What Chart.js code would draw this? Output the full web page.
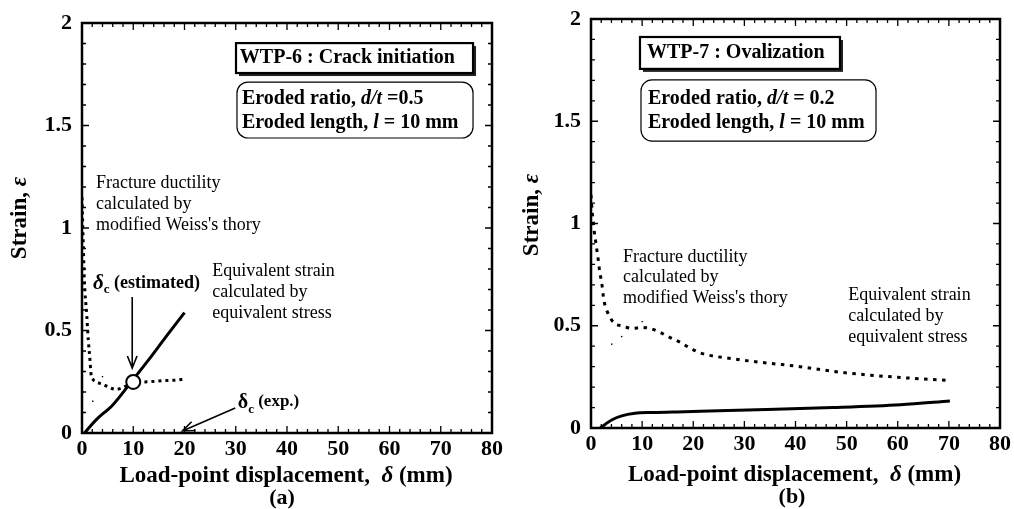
<!DOCTYPE html>
<html>
<head>
<meta charset="utf-8">
<script src="https://cdn.jsdelivr.net/npm/chart.js@4.4.0/dist/chart.umd.min.js"></script>
<style>
  html, body { margin: 0; padding: 0; background: #fff; }
  .pane { position: absolute; top: 0; }
</style>
</head>
<body>
<div class="pane" style="left:0"><canvas id="chartA" width="510" height="509"></canvas></div>
<div class="pane" style="left:500px"><canvas id="chartB" width="514" height="509"></canvas></div>
<script>
const SERIF = '"Liberation Serif", "Times New Roman", serif';

// eixos
const xTickVals = [0, 10, 20, 30, 40, 50, 60, 70, 80];
const yTickVals = [0, 0.5, 1, 1.5, 2];

// (a) WTP-6 : crack initiation
const a_strainX = [0.5, 2.7, 6.0, 9.2, 13.1, 16.4, 20.0];
const a_strainY = [0, 0.063, 0.137, 0.236, 0.36, 0.47, 0.587];
const a_ductX = [0, 0.1, 0.26, 0.45, 0.91, 1.24, 1.56, 1.75, 2.2, 2.7, 4.0, 5.3, 6.6, 8.6, 10.0, 13.1, 15.7, 18.3, 20.0];
const a_ductY = [1.15, 1.05, 0.91, 0.75, 0.58, 0.45, 0.356, 0.29, 0.26, 0.25, 0.238, 0.223, 0.213, 0.229, 0.245, 0.25, 0.255, 0.258, 0.263];
const a_strayX = [2.1, 4.0];
const a_strayY = [0.155, 0.275];
const a_critX = [10.0];
const a_critY = [0.249];

// (b) WTP-7 : ovalization
const b_strainX = [1.8, 4.05, 6.0, 8.6, 11.9, 18.4, 21.4, 34.4, 47.4, 60.5, 70.2];
const b_strainY = [0, 0.039, 0.059, 0.072, 0.076, 0.080, 0.082, 0.09, 0.1, 0.114, 0.132];
const b_ductX = [0, 0.1, 0.26, 0.45, 0.65, 0.92, 1.17, 1.43, 1.63, 1.9, 2.2, 2.4, 2.74, 3.4, 4.56, 6.2, 7.96, 10.0, 11.5, 13.5, 15.1, 17.2, 18.9, 21.4, 27.9, 34.4, 40.9, 47.4, 53.9, 60.5, 70.2];
const b_ductY = [1.14, 1.10, 1.05, 1.006, 0.957, 0.911, 0.866, 0.82, 0.778, 0.737, 0.69, 0.645, 0.60, 0.557, 0.512, 0.499, 0.487, 0.492, 0.487, 0.468, 0.447, 0.422, 0.398, 0.367, 0.338, 0.318, 0.30, 0.277, 0.26, 0.247, 0.232];
const b_strayX = [4.05, 6.0, 10.0];
const b_strayY = [0.41, 0.447, 0.52];

function pts(xs, ys) { return xs.map((x, i) => ({ x, y: ys[i] })); }

// moldura com ticks para dentro nos 4 lados
const framePlugin = {
  id: 'frame',
  afterDraw(chart) {
    const { ctx, chartArea: ca, scales: { x, y } } = chart;
    ctx.save();
    ctx.strokeStyle = '#000';
    ctx.lineWidth = 1.3;
    ctx.beginPath();
    for (let v = 0; v <= 80; v += 2) {
      const px = x.getPixelForValue(v);
      const len = v % 10 === 0 ? 7 : 4;
      ctx.moveTo(px, ca.bottom); ctx.lineTo(px, ca.bottom - len);
      ctx.moveTo(px, ca.top); ctx.lineTo(px, ca.top + len);
    }
    for (let i = 0; i <= 20; i++) {
      const py = y.getPixelForValue(i / 10);
      const len = i % 5 === 0 ? 7 : 4;
      ctx.moveTo(ca.left, py); ctx.lineTo(ca.left + len, py);
      ctx.moveTo(ca.right, py); ctx.lineTo(ca.right - len, py);
    }
    ctx.stroke();
    ctx.lineWidth = 2.5;
    ctx.strokeRect(ca.left, ca.top, ca.width, ca.height);
    ctx.restore();
  }
};

function runsWidth(ctx, runs) {
  let w = 0;
  for (const r of runs) { ctx.font = r[1] + ' ' + SERIF; w += ctx.measureText(r[0]).width; }
  return w;
}
function drawRuns(ctx, runs, x, y) {
  ctx.textBaseline = 'middle';
  ctx.textAlign = 'left';
  for (const r of runs) {
    ctx.font = r[1] + ' ' + SERIF;
    ctx.fillText(r[0], x, y + (r[2] || 0));
    x += ctx.measureText(r[0]).width;
  }
}
function arrow(ctx, x0, y0, x1, y1) {
  const a = Math.atan2(y1 - y0, x1 - x0), h = 13, s = 0.38;
  ctx.beginPath();
  ctx.moveTo(x0, y0); ctx.lineTo(x1, y1);
  ctx.moveTo(x1 - h * Math.cos(a - s), y1 - h * Math.sin(a - s));
  ctx.lineTo(x1, y1);
  ctx.lineTo(x1 - h * Math.cos(a + s), y1 - h * Math.sin(a + s));
  ctx.stroke();
}

// caixas, textos, setas e titulos dos eixos
const notesPlugin = {
  id: 'notes',
  afterDraw(chart, args, o) {
    const { ctx, scales: { x, y } } = chart;
    const X = v => x.getPixelForValue(v), Y = v => y.getPixelForValue(v);
    ctx.save();
    ctx.fillStyle = '#000';
    ctx.strokeStyle = '#000';
    for (const b of o.boxes || []) {
      const x0 = X(b.x0), x1 = X(b.x1), y0 = Y(b.y0), y1 = Y(b.y1);
      if (b.shadow) {
        ctx.fillStyle = '#222';
        ctx.fillRect(x0 + 3, y0 + 3, x1 - x0, y1 - y0);
        ctx.fillStyle = '#fff';
        ctx.fillRect(x0, y0, x1 - x0, y1 - y0);
        ctx.lineWidth = 2.2;
        ctx.strokeRect(x0, y0, x1 - x0, y1 - y0);
      } else {
        ctx.fillStyle = '#fff';
        ctx.lineWidth = 1.2;
        ctx.beginPath();
        ctx.roundRect(x0, y0, x1 - x0, y1 - y0, 11);
        ctx.fill();
        ctx.stroke();
      }
      ctx.fillStyle = '#000';
    }
    for (const t of o.texts || []) drawRuns(ctx, t.runs, X(t.x), Y(t.y));
    ctx.lineWidth = 1.6;
    for (const a of o.arrows || []) arrow(ctx, X(a.x0), Y(a.y0), X(a.x1), Y(a.y1));
    for (const t of o.centered || []) {
      const w = runsWidth(ctx, t.runs);
      drawRuns(ctx, t.runs, t.cx - w / 2, t.cy);
    }
    if (o.yTitle) {
      const w = runsWidth(ctx, o.yTitle.runs);
      ctx.translate(o.yTitle.cx, o.yTitle.cy);
      ctx.rotate(-Math.PI / 2);
      drawRuns(ctx, o.yTitle.runs, -w / 2, 0);
    }
    ctx.restore();
  }
};

function makeChart(id, area, datasets, notes) {
  const cv = document.getElementById(id);
  const W = cv.width, H = cv.height;
  const tickFont = { family: SERIF, weight: 'bold', size: 22 };
  return new Chart(cv, {
    type: 'line',
    data: { datasets },
    options: {
      responsive: false,
      animation: false,
      devicePixelRatio: 1,
      layout: { padding: { left: 0, top: area.top, right: W - area.right, bottom: 0 } },
      plugins: { legend: { display: false }, tooltip: { enabled: false }, notes },
      scales: {
        x: {
          type: 'linear', min: 0, max: 80,
          afterBuildTicks: s => { s.ticks = xTickVals.map(v => ({ value: v })); },
          afterFit: s => { s.height = H - area.bottom; s.paddingLeft = 0; s.paddingRight = 0; },
          ticks: { font: tickFont, color: '#000', padding: 3, maxRotation: 0, callback: v => String(v) },
          grid: { display: false, drawTicks: false },
          border: { display: false }
        },
        y: {
          type: 'linear', min: 0, max: 2,
          afterBuildTicks: s => { s.ticks = yTickVals.map(v => ({ value: v })); },
          afterFit: s => { s.width = area.left; s.paddingTop = 0; s.paddingBottom = 0; },
          ticks: { font: tickFont, color: '#000', padding: 10, callback: v => String(v) },
          grid: { display: false, drawTicks: false },
          border: { display: false }
        }
      }
    },
    plugins: [framePlugin, notesPlugin]
  });
}

const solid = (data) => ({ data, borderColor: '#000', borderWidth: 3, pointRadius: 0, cubicInterpolationMode: 'monotone', order: 2 });
const dotted = (data, dash) => ({ data, borderColor: '#000', borderWidth: 3, borderDash: dash, borderCapStyle: 'butt', pointRadius: 0, cubicInterpolationMode: 'monotone', order: 2 });
const stray = (data) => ({ data, showLine: false, pointRadius: 1, pointStyle: 'rect', backgroundColor: '#000', borderColor: '#000', borderWidth: 0, order: 1 });

const B = 'bold 20px', BI = 'italic bold 20px', R = '18px';

makeChart('chartA', { left: 82, right: 492, top: 23, bottom: 433 }, [
  { data: pts(a_critX, a_critY), showLine: false, pointRadius: 7, pointBackgroundColor: '#fff', pointBorderColor: '#000', pointBorderWidth: 2, order: 0 },
  solid(pts(a_strainX, a_strainY)),
  dotted(pts(a_ductX, a_ductY), [3, 4]),
  stray(pts(a_strayX, a_strayY))
], {
  boxes: [
    { x0: 30.05, x1: 76.3, y0: 1.902, y1: 1.756, shadow: true },
    { x0: 30.24, x1: 76.3, y0: 1.712, y1: 1.439 }
  ],
  texts: [
    { x: 30.8, y: 1.83, runs: [['WTP-6 : Crack initiation', B]] },
    { x: 31.2, y: 1.629, runs: [['Eroded ratio, ', B], ['d/t', BI], [' =0.5', B]] },
    { x: 31.2, y: 1.512, runs: [['Eroded length, ', B], ['l', BI], [' = 10 mm', B]] },
    { x: 2.73, y: 1.22, runs: [['Fracture ductility', R]] },
    { x: 2.73, y: 1.115, runs: [['calculated by', R]] },
    { x: 2.73, y: 1.015, runs: [['modified Weiss\'s thory', R]] },
    { x: 25.4, y: 0.79, runs: [['Equivalent strain', R]] },
    { x: 25.4, y: 0.688, runs: [['calculated by', R]] },
    { x: 25.4, y: 0.585, runs: [['equivalent stress', R]] },
    { x: 2.15, y: 0.73, runs: [['δ', 'italic bold 21px'], ['c', 'bold 13px', 6], [' (estimated)', 'bold 18px']] },
    { x: 30.4, y: 0.146, runs: [['δ', 'bold 20px'], ['c', 'bold 13px', 7], [' (exp.)', 'bold 17px', -1]] }
  ],
  arrows: [
    { x0: 9.8, y0: 0.663, x1: 9.8, y1: 0.317 },
    { x0: 29.9, y0: 0.122, x1: 19.6, y1: 0.01 }
  ],
  centered: [
    { cx: 286, cy: 476, runs: [['Load-point displacement,  ', 'bold 23px'], ['δ', 'italic bold 23px'], [' (mm)', 'bold 23px']] },
    { cx: 282, cy: 498, runs: [['(a)', 'bold 22px']] }
  ],
  yTitle: { cx: 20, cy: 218, runs: [['Strain, ', 'bold 23px'], ['ε', 'italic bold 23px']] }
});

makeChart('chartB', { left: 91, right: 500, top: 19, bottom: 428 }, [
  solid(pts(b_strainX, b_strainY)),
  dotted(pts(b_ductX, b_ductY), [3.5, 5.5]),
  stray(pts(b_strayX, b_strayY))
], {
  boxes: [
    { x0: 9.58, x1: 48.7, y0: 1.912, y1: 1.756, shadow: true },
    { x0: 9.78, x1: 55.75, y0: 1.702, y1: 1.403 }
  ],
  texts: [
    { x: 10.95, y: 1.834, runs: [['WTP-7 : Ovalization', B]] },
    { x: 11.15, y: 1.609, runs: [['Eroded ratio, ', B], ['d/t', BI], [' = 0.2', B]] },
    { x: 11.15, y: 1.491, runs: [['Eroded length, ', B], ['l', BI], [' = 10 mm', B]] },
    { x: 6.26, y: 0.836, runs: [['Fracture ductility', R]] },
    { x: 6.26, y: 0.738, runs: [['calculated by', R]] },
    { x: 6.26, y: 0.636, runs: [['modified Weiss\'s thory', R]] },
    { x: 50.3, y: 0.65, runs: [['Equivalent strain', R]] },
    { x: 50.3, y: 0.548, runs: [['calculated by', R]] },
    { x: 50.3, y: 0.445, runs: [['equivalent stress', R]] }
  ],
  centered: [
    { cx: 294.5, cy: 475, runs: [['Load-point displacement,  ', 'bold 23px'], ['δ', 'italic bold 23px'], [' (mm)', 'bold 23px']] },
    { cx: 292, cy: 497, runs: [['(b)', 'bold 22px']] }
  ],
  yTitle: { cx: 31.7, cy: 215, runs: [['Strain, ', 'bold 23px'], ['ε', 'italic bold 23px']] }
});
</script>
</body>
</html>
